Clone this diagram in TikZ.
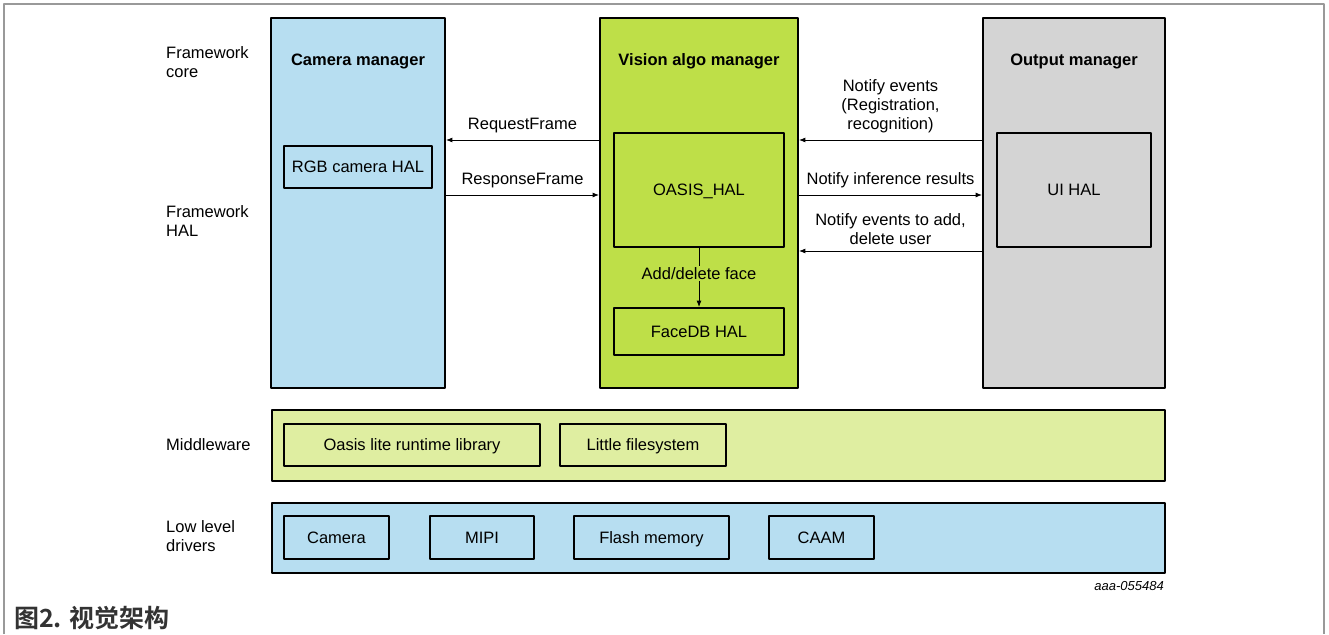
\documentclass[tikz,border=0pt]{standalone}
\usepackage{fontspec}
\usetikzlibrary{arrows.meta}
\setmainfont{Liberation Sans}
\newfontfamily\cjk{Noto Sans CJK SC Bold}
\definecolor{camblue}{HTML}{B7DEF1}
\definecolor{visgreen}{HTML}{BEDF48}
\definecolor{midgreen}{HTML}{DFEEA1}
\definecolor{outgray}{HTML}{D4D4D4}
\newcommand\fs{\fontsize{16.5}{19}\selectfont}
\begin{document}
\begin{tikzpicture}[x=1pt,y=-1pt,>={Latex[length=6.5pt,width=5pt]},font=\fs,line join=round,
	box/.style={draw,line width=1.8pt,inner sep=0pt,text height=11.8pt,text depth=0pt},
	title/.style={font=\fs\bfseries},
	layer/.style={anchor=west,align=left,inner sep=0pt},
	conn/.style={line width=0.9pt}]
	\useasboundingbox (0,0) rectangle (1329,634);
	\draw[gray!80,line width=1.5pt] (4,634)--(4,4)--(1324,4)--(1324,634);
	% managers
	\node[box,fill=camblue,minimum width=174pt,minimum height=370pt] (cam) at (358,203) {};
	\node[box,fill=visgreen,minimum width=198pt,minimum height=370pt] (vis) at (699,203) {};
	\node[box,fill=outgray,minimum width=182pt,minimum height=370pt] (out) at (1074,203) {};
	\node[title] (camT) at (358,61) {Camera manager};
	\node[title] (visT) at (699,61) {Vision algo manager};
	\node[title] (outT) at (1074,61) {Output manager};
	\node[box,minimum width=148pt,minimum height=42pt] (rgb) at (358,167) {RGB camera HAL};
	\node[box,minimum width=170pt,minimum height=114pt] (oasis) at (699,190) {OASIS\_HAL};
	\node[box,minimum width=170pt,minimum height=47pt] (facedb) at (699,331.5) {FaceDB HAL};
	\node[box,minimum width=154pt,minimum height=114pt] (uihal) at (1074,190) {UI HAL};
	% bands
	\node[box,fill=midgreen,minimum width=893pt,minimum height=71pt] (mid) at (718.5,445.5) {};
	\node[box,minimum width=256pt,minimum height=42pt] (oasislite) at (412,445) {Oasis lite runtime library};
	\node[box,minimum width=166pt,minimum height=42pt] (littlefs) at (643,445) {Little filesystem};
	\node[box,fill=camblue,minimum width=893pt,minimum height=70pt] (low) at (718.5,538) {};
	\node[box,minimum width=105pt,minimum height=43pt] (camera) at (336.5,537.5) {Camera};
	\node[box,minimum width=104pt,minimum height=43pt] (mipi) at (482,537.5) {MIPI};
	\node[box,minimum width=155pt,minimum height=43pt] (flash) at (651.5,537.5) {Flash memory};
	\node[box,minimum width=105pt,minimum height=43pt] (caam) at (821.5,537.5) {CAAM};
	% layer names
	\node[layer] (core) at (166,62) {Framework\\core};
	\node[layer] (hal) at (166,221) {Framework\\HAL};
	\node[layer] (mw) at (166,445) {Middleware};
	\node[layer] (drv) at (166,536) {Low level\\drivers};
	% connectors
	\draw[conn,->] (vis.west|-0,140) -- node[above=3pt]{RequestFrame} (cam.east|-0,140);
	\draw[conn,->] (cam.east|-0,195) -- node[above=3pt]{ResponseFrame} (vis.west|-0,195);
	\draw[conn,->] (out.west|-0,140) -- node[above=3pt,align=center]{Notify events\\(Registration,\\recognition)} (vis.east|-0,140);
	\draw[conn,->] (vis.east|-0,195) -- node[above=3pt]{Notify inference results} (out.west|-0,195);
	\draw[conn,->] (out.west|-0,251) -- node[above=3pt,align=center]{Notify events to add,\\delete user} (vis.east|-0,251);
	\draw[conn,->] (oasis) -- node[pos=0.43,fill=visgreen,inner sep=1.5pt]{Add/delete face} (facedb);
	\node[anchor=east,font=\fontsize{13}{15}\selectfont\itshape,inner sep=0pt] (docid) at (1164,586) {aaa-055484};
	\node[anchor=west,inner sep=0pt,text=black!80,font=\fontsize{25}{29}\selectfont\cjk] (cap) at (14,618) {图2. 视觉架构};
\end{tikzpicture}
\end{document}
